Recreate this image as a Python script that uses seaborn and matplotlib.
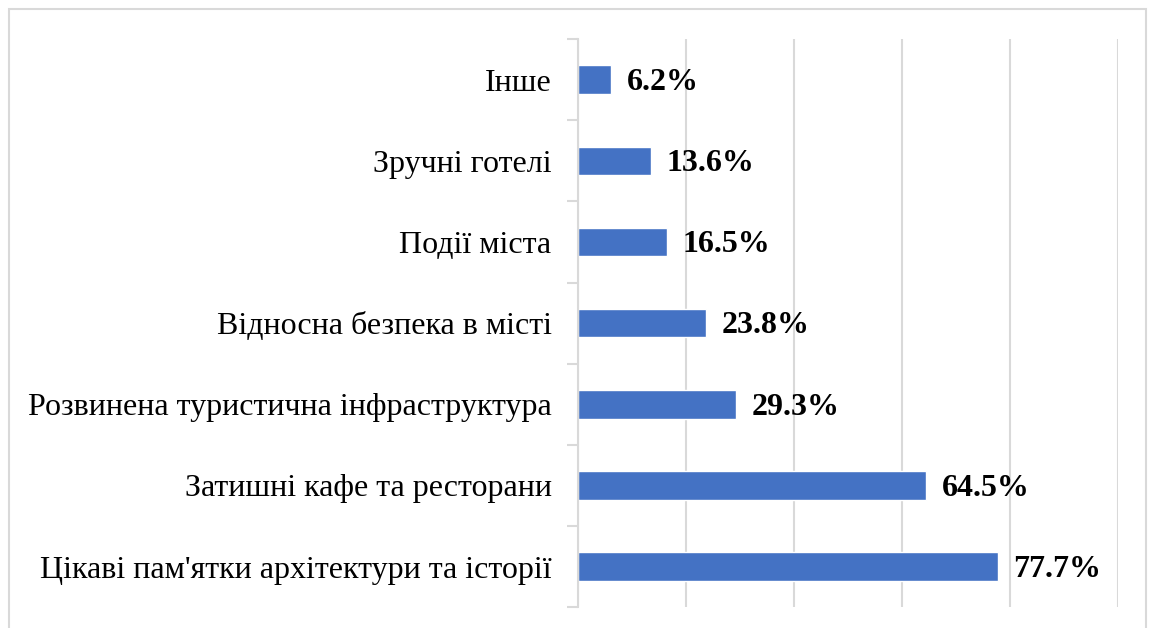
import matplotlib
matplotlib.use("Agg")
import matplotlib.pyplot as plt
import seaborn as sns
import pandas as pd
from matplotlib.patches import Rectangle

# -----------------------------------
# Data
# -----------------------------------
categories = [
    "Інше",
    "Зручні готелі",
    "Події міста",
    "Відносна безпека в місті",
    "Розвинена туристична інфраструктура",
    "Затишні кафе та ресторани",
    "Цікаві пам'ятки архітектури та історії",
]

values = [6.2, 13.6, 16.5, 23.8, 29.3, 64.5, 77.7]

df = pd.DataFrame({"category": categories, "value": values})

# -----------------------------------
# Style
# -----------------------------------
sns.set_style("white")
plt.rcParams["font.family"] = ["Liberation Serif", "DejaVu Serif"]
plt.rcParams["text.color"] = "black"
plt.rcParams["ytick.color"] = "black"
plt.rcParams["ytick.labelcolor"] = "black"

grid_color = "#d9d9d9"
bar_color = "#4472c4"

fig = plt.figure(figsize=(11.49, 6.28), dpi=100)
ax = fig.add_axes([0.503, 0.033, 0.470, 0.905])

sns.barplot(
    data=df,
    x="value",
    y="category",
    orient="h",
    color=bar_color,
    width=0.35,
    saturation=1,
    ax=ax,
)

ax.set_xlim(0, 100)
ax.set_ylim(len(categories) - 0.5, -0.5)
ax.set_xticks([0, 20, 40, 60, 80, 100])
ax.set_xticklabels([])
ax.tick_params(axis="x", length=0)
ax.xaxis.grid(True, color=grid_color, linewidth=1.5)
ax.set_axisbelow(True)

# y ticks: labels at centres, marks at boundaries
ax.tick_params(axis="y", which="major", left=True, length=0, pad=19,
               labelsize=23, labelcolor="black")
ax.set_yticks([i - 0.5 for i in range(len(categories) + 1)], minor=True)
ax.tick_params(axis="y", which="minor", left=True, length=8, width=1.5,
               color=grid_color)

for s in ["top", "right", "bottom"]:
    ax.spines[s].set_visible(False)
ax.spines["left"].set_color(grid_color)
ax.spines["left"].set_linewidth(1.5)

ax.set_xlabel("")
ax.set_ylabel("")

# value labels
for i, v in enumerate(values):
    ax.annotate(
        f"{v}%",
        xy=(v, i),
        xytext=(11, -2),
        textcoords="offset points",
        va="center",
        ha="left",
        fontsize=23,
        fontweight="bold",
        color="black",
    )

# outer frame
fig.patches.append(
    Rectangle(
        (9 / 1149, -0.05),
        (1146 - 9) / 1149,
        1.05 - 9 / 628,
        transform=fig.transFigure,
        fill=False,
        edgecolor=grid_color,
        linewidth=1.5,
    )
)

fig.savefig("out.png", dpi=100)
